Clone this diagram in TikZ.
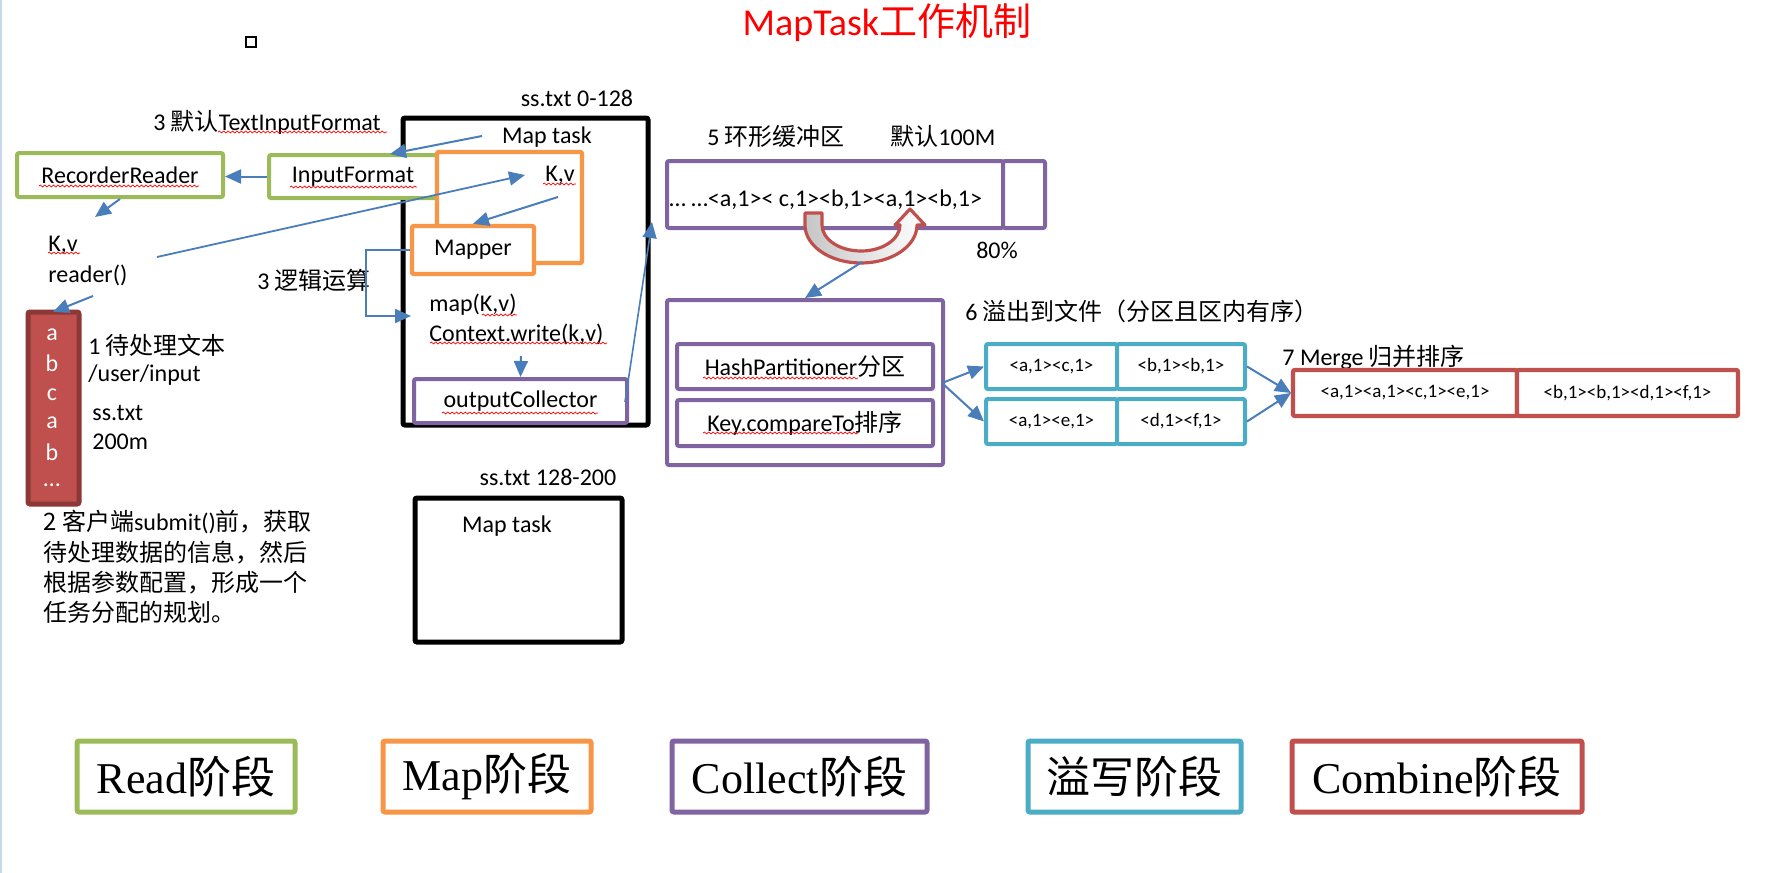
\documentclass[tikz,border=0pt]{standalone}
\usepackage{fontspec}
\setmainfont{Carlito}
\newfontfamily\cjk{Noto Sans CJK SC}
\newfontfamily\serifL{Liberation Serif}
\usetikzlibrary{arrows.meta,fit,decorations.pathmorphing}
\definecolor{ogreen}{RGB}{155,187,89}
\definecolor{oorange}{RGB}{247,150,70}
\definecolor{opurple}{RGB}{128,100,162}
\definecolor{ocyan}{RGB}{75,172,198}
\definecolor{ored}{RGB}{192,80,77}
\definecolor{odred}{RGB}{140,56,54}
\definecolor{oblue}{RGB}{74,126,187}
\definecolor{edgeblue}{RGB}{200,215,235}
\begin{document}
\begin{tikzpicture}[x=0.5pt,y=-0.5pt,
  txt/.style={font=\fontsize{12}{14}\selectfont, inner sep=0pt},
  small/.style={font=\fontsize{9.5}{11}\selectfont, inner sep=0pt},
  box/.style={draw=#1, line width=2pt, rounded corners=1pt, inner sep=0pt, fill=white},
  legend/.style={draw=#1, line width=2.5pt, rounded corners=1pt, inner sep=0pt},
  lgtxt/.style={inner sep=0pt, font=\serifL\fontsize{22}{26}\selectfont},
  conn/.style={draw=oblue, line width=1pt, -{Triangle[length=8pt,width=7pt]}},
  spell/.style={draw=red, line width=0.35pt, decorate, decoration={snake, amplitude=0.5pt, segment length=2.2pt}},
]
\useasboundingbox (0,0) rectangle (1769,873);
\fill[white] (0,0) rectangle (1769,873);
\draw[edgeblue, line width=1pt] (1,0) -- (1,873);

% title
\node[inner sep=0pt, text=red, font=\fontsize{19}{22}\selectfont] (title) at (887,23) {MapTask{\cjk 工作机制}};
\node[draw, line width=0.6pt, minimum size=5pt, inner sep=0pt] (sq) at (251,42) {};

% Map task 1 (black box)
\node[box=black, line width=2.5pt, fit={(403,118) (648,425)}] (mt1) {};
\node[txt] (ss1) at (577,98) {ss.txt 0-128};

% read stage
\node[box=ogreen, fit={(17,153) (223,197)}] (rr) {};
\node[txt] (rrt) at (rr.center) {RecorderReader};
\node[box=ogreen, fit={(269,155) (437,198)}] (if) {};
\node[txt] (ift) at (if.center) {InputFormat};
\node[txt, anchor=west] (t3) at (153,122) {3 {\cjk 默认}TextInputFormat};
\node[txt, anchor=west] (kv1) at (48,245) {K,v};
\node[txt, anchor=west] (rd) at (48,275) {reader()};

% orange boxes
\node[box=oorange, line width=2.2pt, fit={(437,152) (582,263)}] (ob) {};
\node[txt] (mtt) at (547,137) {Map task};
\node[txt, anchor=east] (kv2) at (575,175) {K,v};
\node[box=oorange, line width=2.2pt, fit={(412,226) (534,274)}] (mapper) {};
\node[txt] (mappert) at (mapper.center) {Mapper};
\node[txt, anchor=west] (l3) at (257,280) {3 {\cjk 逻辑运算}};
\node[txt, anchor=west] (mapk) at (429,305) {map(K,v)};
\node[txt, anchor=west] (ctx) at (429,334) {Context.write(k,v)};
\node[box=opurple, fit={(414,379) (627,423)}] (oc) {};
\node[txt] (oct) at (oc.center) {outputCollector};

% file column
\node[fill=ored, draw=odred, line width=2.5pt, rounded corners=1pt, inner sep=0pt, fit={(28,312) (79,504)}] (file) {};
\foreach \c/\yy in {a/335,b/363,c/395,a/423,b/452} {
  \node[txt, text=white] at (52,\yy) {\c};
}
\node[txt, text=white] (fdots) at (52,485) {…};
\node[txt, anchor=west] (l1) at (88,345) {1 {\cjk 待处理文本}};
\node[txt, anchor=west] (ui) at (88,375) {/user/input};
\node[txt, anchor=west] (sst) at (92,413) {ss.txt};
\node[txt, anchor=west] (m200) at (92,442) {200m};
\node[txt, anchor=west] (l2a) at (43,522) {{\cjk 2 客户端}submit(){\cjk 前，获取}};
\node[txt, anchor=west] (l2b) at (43,553) {\cjk 待处理数据的信息，然后};
\node[txt, anchor=west] (l2c) at (43,583) {\cjk 根据参数配置，形成一个};
\node[txt, anchor=west] (l2d) at (43,612) {\cjk 任务分配的规划。};

% Map task 2
\node[box=black, line width=2.5pt, fit={(415,498) (622,642)}] (mt2) {};
\node[txt] (ss2) at (548,477) {ss.txt 128-200};
\node[txt] (mt2t) at (507,526) {Map task};

% buffer
\node[box=opurple, fit={(667,161) (1003,228)}] (buf) {};
\node[box=opurple, fit={(1003,161) (1045,228)}] (buf80) {};
\node[txt, anchor=west] (buft) at (669,200) {… …<a,1>< c,1><b,1><a,1><b,1>};
\node[txt, anchor=west] (l5) at (707,136) {5 {\cjk 环形缓冲区}};
\node[txt, anchor=west] (l5b) at (890,136) {{\cjk 默认}100M};
\node[txt] (p80) at (997,250) {80\%};

% curved U arrow
\shade[left color=gray!45, right color=white]
  (805,213) -- (805,225) .. controls (805,246) and (830,263) .. (861,263)
  .. controls (892,263) and (917,246) .. (917,225) -- (925,225) -- (910,209) -- (895,225) -- (900,225)
  .. controls (900,239) and (883,251) .. (861,251) .. controls (839,251) and (822,239) .. (822,225)
  -- (822,213) -- cycle;
\draw[ored, line width=1.6pt, line join=round]
  (805,213) -- (805,225) .. controls (805,246) and (830,263) .. (861,263)
  .. controls (892,263) and (917,246) .. (917,225) -- (925,225) -- (910,209) -- (895,225) -- (900,225)
  .. controls (900,239) and (883,251) .. (861,251) .. controls (839,251) and (822,239) .. (822,225)
  -- (822,213) -- cycle;
\coordinate (ubot) at (862,262);

% partition / sort
\node[box=opurple, fit={(667,300) (943,465)}] (part) {};
\node[box=opurple, fit={(677,344) (933,389)}] (hash) {};
\node[txt] (hasht) at (hash.center) {HashPartitioner{\cjk 分区}};
\node[box=opurple, fit={(677,400) (933,446)}] (key) {};
\node[txt] (keyt) at (key.center) {Key.compareTo{\cjk 排序}};

% spill files
\node[txt, anchor=west] (l6) at (965,311) {6 {\cjk 溢出到文件（分区且区内有序）}};
\node[box=ocyan, fit={(986,344) (1117,389)}] (c1) {};
\node[box=ocyan, fit={(1117,344) (1245,389)}] (c2) {};
\node[box=ocyan, fit={(986,399) (1117,444)}] (c3) {};
\node[box=ocyan, fit={(1117,399) (1245,444)}] (c4) {};
\node[small] at (c1.center) {<a,1><c,1>};
\node[small] at (c2.center) {<b,1><b,1>};
\node[small] at (c3.center) {<a,1><e,1>};
\node[small] at (c4.center) {<d,1><f,1>};

% merge
\node[txt, anchor=west] (l7) at (1282,357) {7 Merge {\cjk 归并排序}};
\node[box=ored, line width=2.2pt, fit={(1293,370) (1517,416)}] (m1) {};
\node[box=ored, line width=2.2pt, fit={(1517,370) (1738,416)}] (m2) {};
\node[small] at (m1.center) {<a,1><a,1><c,1><e,1>};
\node[small] at (m2.center) {<b,1><b,1><d,1><f,1>};

% legend
\node[legend=ogreen, fit={(77,741) (295,812)}] (lg1) {};
\node[legend=oorange, fit={(383,741) (591,812)}] (lg2) {};
\node[legend=opurple, fit={(672,741) (927,812)}] (lg3) {};
\node[legend=ocyan, fit={(1028,741) (1241,812)}] (lg4) {};
\node[legend=ored, fit={(1292,741) (1582,812)}] (lg5) {};
\node[lgtxt] at (lg1.center) {Read{\cjk 阶段}};
\node[lgtxt] at (lg2.center) {Map{\cjk 阶段}};
\node[lgtxt] at (lg3.center) {Collect{\cjk 阶段}};
\node[lgtxt] at (lg4.center) {{\cjk 溢写阶段}};
\node[lgtxt] at (lg5.center) {Combine{\cjk 阶段}};

% connectors
\coordinate (rra) at (95,217);
\coordinate (rdo) at (157,257);
\coordinate (kvin) at (525,175);
\coordinate (mtto) at (482,136);
\coordinate (ifin) at (390,154);
\coordinate (kvo) at (558,197);
\coordinate (mapin) at (411,316);
\coordinate (ctxo) at (521,356);
\coordinate (oco) at (625,402);
\coordinate (bufin) at (652,222);
\coordinate (rdo2) at (93,296);
\coordinate (filein) at (53,312);
\coordinate (pout) at (942,383);
\coordinate (min) at (1291,393);

\draw[conn] (if.west) -- (if.west -| rr.east);
\draw[conn] (rr.south) -- (rra);
\draw[conn, line width=0.9pt] (rdo) -- (kvin);
\draw[conn] (mtto) -- (ifin);
\draw[conn] (kvo) -- (mapper.north);
\draw[conn] (mapper.west) -- ++(-44,0) |- (mapin);
\draw[conn] (ctxo) -- (oc.north);
\draw[conn, line width=0.8pt] (oco) -- (bufin);
\draw[conn] (rdo2) -- (filein);
\draw[conn] (ubot) -- (part.north);
\draw[conn] (pout) -- (c1.west);
\draw[conn] (pout) -- (c3.west);
\draw[conn] (c2.east) -- (min);
\draw[conn] (c4.east) -- (min);

% spell-check underlines
\draw[spell] (218,132) -- (387,132);
\draw[spell] (39,186) -- (199,186);
\draw[spell] (290,187) -- (417,187);
\draw[spell] (48,253) -- (80,253);
\draw[spell] (543,184) -- (576,184);
\draw[spell] (482,315) -- (517,315);
\draw[spell] (430,343) -- (607,343);
\draw[spell] (442,413) -- (598,413);
\draw[spell] (703,378) -- (858,378);
\draw[spell] (703,433) -- (858,433);
\end{tikzpicture}
\end{document}
